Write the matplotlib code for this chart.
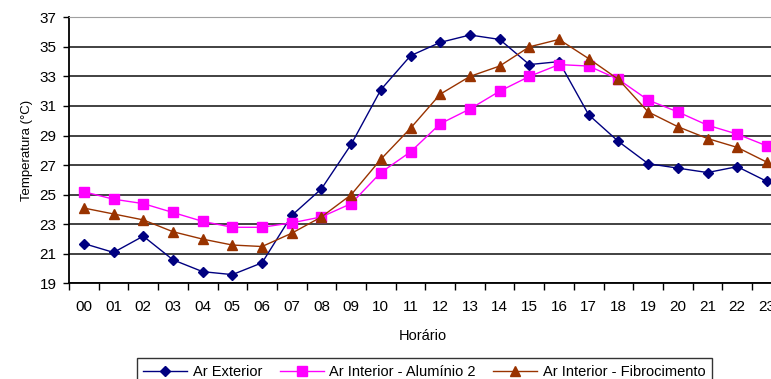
import matplotlib
matplotlib.use("Agg")
import matplotlib.pyplot as plt
import numpy as np

plt.rcParams['font.family'] = ['Liberation Sans', 'DejaVu Sans']

horas = ["00", "01", "02", "03", "04", "05", "06", "07", "08", "09", "10", "11",
         "12", "13", "14", "15", "16", "17", "18", "19", "20", "21", "22", "23"]

ar_exterior = [21.7, 21.1, 22.2, 20.6, 19.8, 19.6, 20.4, 23.6, 25.4, 28.4, 32.1, 34.4,
               35.3, 35.8, 35.5, 33.8, 34.0, 30.4, 28.6, 27.1, 26.8, 26.5, 26.9, 25.9]
aluminio = [25.2, 24.7, 24.4, 23.8, 23.2, 22.8, 22.8, 23.1, 23.5, 24.4, 26.5, 27.9,
            29.8, 30.8, 32.0, 33.0, 33.8, 33.7, 32.8, 31.4, 30.6, 29.7, 29.1, 28.3]
fibrocimento = [24.1, 23.7, 23.3, 22.5, 22.0, 21.6, 21.5, 22.4, 23.5, 25.0, 27.4, 29.5,
                31.8, 33.0, 33.7, 35.0, 35.5, 34.2, 32.8, 30.6, 29.6, 28.8, 28.2, 27.2]

x = np.arange(len(horas))

fig = plt.figure(figsize=(7.71, 3.79), dpi=100)
ax = fig.add_axes([0.0895, 0.252, 0.9245, 0.7025])

ax.plot(x, ar_exterior, color='#000080', lw=1, marker='D', ms=5.5, label='Ar Exterior')
ax.plot(x, aluminio, color='#FF00FF', lw=1, marker='s', ms=7, label='Ar Interior - Alumínio 2')
ax.plot(x, fibrocimento, color='#993300', lw=1, marker='^', ms=7.5, label='Ar Interior - Fibrocimento')

ax.set_ylim(19, 37)
ax.set_yticks(np.arange(19, 38, 2))
ax.set_xlim(-0.5, 23.5)
ax.set_xticks(np.arange(-0.5, 24, 1))
ax.set_xticklabels([])
ax.set_xticks(x, minor=True)
ax.set_xticklabels(horas, minor=True)

ax.tick_params(axis='x', which='major', direction='out', length=5, width=1, color='black')
ax.tick_params(axis='x', which='minor', length=0, pad=12, labelsize=11)
ax.tick_params(axis='y', direction='out', length=4, width=1, pad=5, labelsize=11)

ax.yaxis.grid(True, color='#333333', lw=1.3)
ax.set_axisbelow(True)
ax.spines['right'].set_visible(False)
ax.spines['top'].set_color('#a0a0a0')
ax.spines['left'].set_linewidth(1.3)
ax.spines['bottom'].set_linewidth(1.3)

ax.set_ylabel('Temperatura (°C)', fontsize=9.5, labelpad=5)
fig.text(0.549, 1 - 336 / 379, 'Horário', ha='center', va='center', fontsize=10.5)

leg = fig.legend(loc='upper center', bbox_to_anchor=(0.5506, 1 - 351 / 379), ncol=3,
                 frameon=True, fancybox=False, edgecolor='black', fontsize=10.5,
                 handlelength=3, columnspacing=1.2, borderpad=0.45, handletextpad=0.4)
leg.get_frame().set_linewidth(1)

fig.savefig('out.png', dpi=100)
